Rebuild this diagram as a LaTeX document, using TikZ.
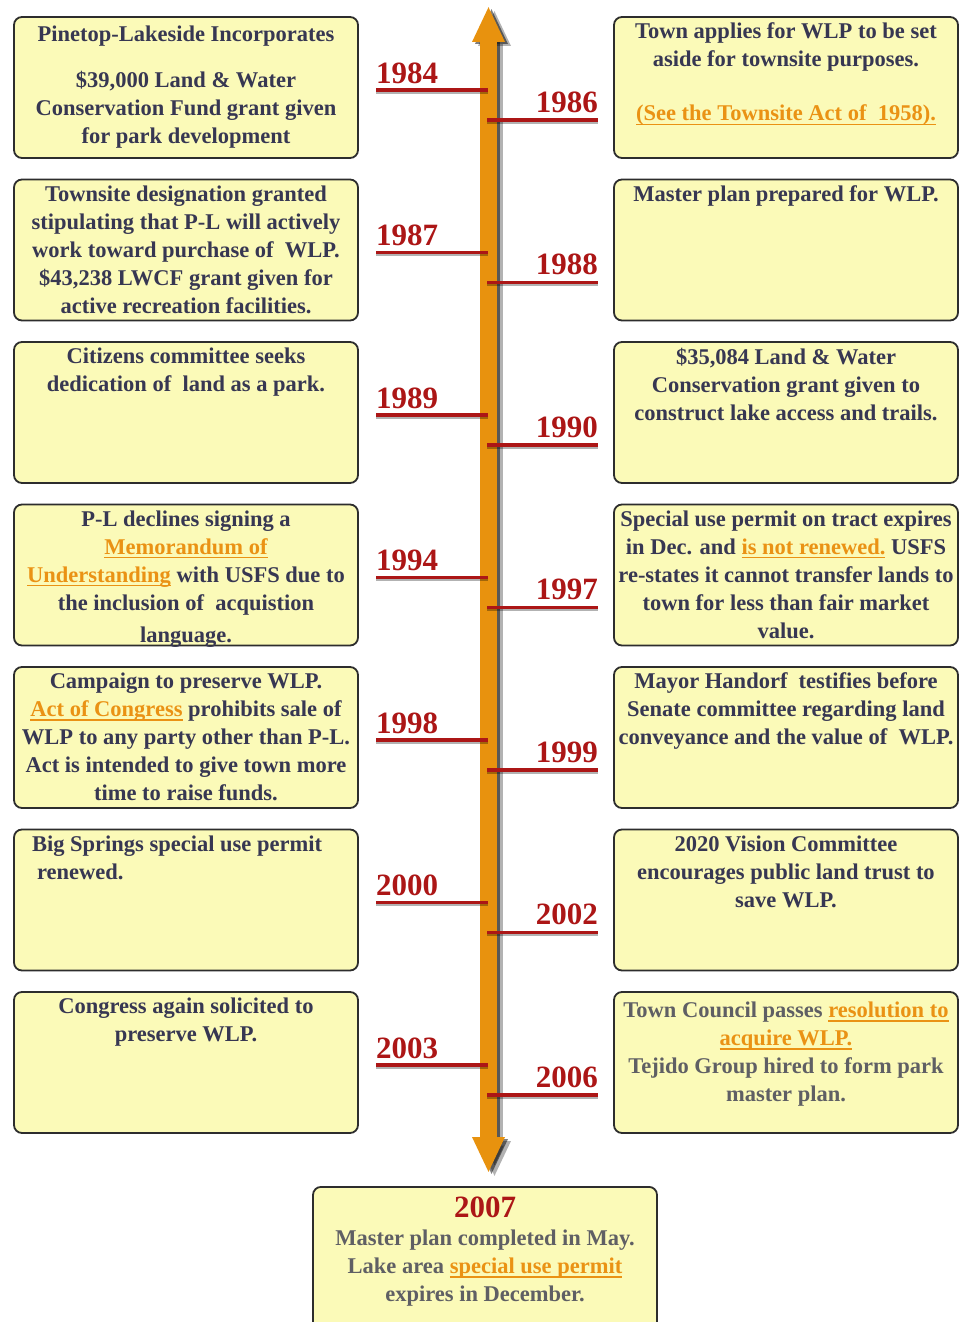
\documentclass[tikz,border=0pt]{standalone}
\usepackage{fontspec}
\setmainfont{Liberation Serif}
\usepackage{tikz}
\usetikzlibrary{arrows.meta, positioning}

\definecolor{boxfill}{RGB}{251,250,184}
\definecolor{boxline}{RGB}{45,45,45}
\definecolor{evtext}{RGB}{55,55,82}
\definecolor{evgray}{RGB}{95,95,100}
\definecolor{yearred}{RGB}{172,22,22}
\definecolor{linkc}{RGB}{234,146,20}
\definecolor{axisc}{RGB}{232,146,14}

\tikzstyle{event} = [draw=boxline, line width=1.8pt, fill=boxfill, rounded corners=8pt, minimum width=344pt, minimum height=141pt, inner sep=0pt, text=evtext, font=\bfseries\fontsize{22.5}{28}\selectfont]
\tikzstyle{yearL} = [inner sep=0pt, text=yearred, font=\bfseries\fontsize{31}{31}\selectfont, anchor=base west]
\tikzstyle{yearR} = [inner sep=0pt, text=yearred, font=\bfseries\fontsize{31}{31}\selectfont, anchor=base east]
\tikzstyle{yearline} = [line width=3.2pt, draw=yearred]
\tikzstyle{yearshadow} = [line width=3pt, draw=black, opacity=.3]
\tikzstyle{axis} = [line width=17pt, draw=axisc, >={Triangle[width=30pt,length=36pt]}, <->]

\newcommand{\evtxt}[1]{\parbox[c][129pt][t]{344pt}{\centering #1}}
\newcommand{\lnk}[1]{\textcolor{linkc}{\setbox0\hbox{#1}\rlap{\rule[-4pt]{\wd0}{1.3pt}}\box0}}

\begin{document}
\begin{tikzpicture}[x=1pt, y=-1pt]
        \useasboundingbox[fill=white] (0,0) rectangle (959,1322);
        \clip (0,0) rectangle (959,1322);

        % Timeline axis
        \coordinate (top) at (488.5,6);
        \coordinate (bot) at (488.5,1173);
        \draw[axis, draw=black, opacity=.3] ([xshift=6pt,yshift=-4pt]bot) -- ([xshift=6pt,yshift=-4pt]top);
        \draw[axis, draw=black, opacity=.5] ([xshift=3pt,yshift=-2pt]bot) -- ([xshift=3pt,yshift=-2pt]top);
        \draw[axis] (bot) -- (top);

        % Year marks
        \foreach \yr [count=\i from 0] in {1984,1987,1989,1994,1998,2000,2003} {
            \node[yearL] (yl\i) at (376,{83+162.5*\i}) {\yr};
            \coordinate (al\i) at (488,{90+162.5*\i});
            \draw[yearshadow] ([yshift=-2pt]al\i) -- ([yshift=-2pt]al\i -| yl\i.west);
            \draw[yearline] (al\i) -- (al\i -| yl\i.west);
        }
        \foreach \yr [count=\i from 0] in {1986,1988,1990,1997,1999,2002,2006} {
            \node[yearR] (yr\i) at (598,{112+162.5*\i}) {\yr};
            \coordinate (ar\i) at (487,{120+162.5*\i});
            \draw[yearshadow] ([yshift=-2pt]ar\i) -- ([yshift=-2pt]ar\i -| yr\i.east);
            \draw[yearline] (ar\i) -- (ar\i -| yr\i.east);
        }

        % Left events
        \node[event] (e84) at (186,87.5) {\evtxt{\vspace*{3pt}Pinetop-Lakeside Incorporates\\[18pt]
            \$39,000 Land \& Water\\ Conservation Fund grant given\\ for park development}};
        \node[event] (e87) at (186,250) {\evtxt{Townsite designation granted\\ stipulating that P-L will actively\\
            work toward purchase of~ WLP.\\ \$43,238 LWCF grant given for\\ active recreation facilities.}};
        \node[event] (e89) at (186,412.5) {\evtxt{Citizens committee seeks\\ dedication of~ land as a park.}};
        \node[event] (e94) at (186,575) {\evtxt{P-L declines signing a\\ \lnk{Memorandum of}\\
            \lnk{Understanding} with USFS due to\\ the inclusion of~ acquistion\\[4pt] language.}};
        \node[event] (e98) at (186,737.5) {\evtxt{Campaign to preserve WLP.\\ \lnk{Act of Congress} prohibits sale of\\
            WLP to any party other than P-L.\\ Act is intended to give town more\\ time to raise funds.}};
        \node[event] (e00) at (186,900) {\parbox[c][129pt][t]{344pt}{\raggedright
            \hspace*{18pt}Big Springs special use permit\\ \hspace*{23pt}renewed.}};
        \node[event] (e03) at (186,1062.5) {\evtxt{Congress again solicited to\\ preserve WLP.}};

        % Right events
        \node[event] (e86) at (786,87.5) {\evtxt{Town applies for WLP to be set\\ aside for townsite purposes.\\[26pt]
            \lnk{(See the Townsite Act of~ 1958).}}};
        \node[event] (e88) at (786,250) {\evtxt{Master plan prepared for WLP.}};
        \node[event] (e90) at (786,412.5) {\evtxt{\$35,084 Land \& Water\\ Conservation grant given to\\
            construct lake access and trails.}};
        \node[event] (e97) at (786,575) {\evtxt{Special use permit on tract expires\\ in Dec. and \lnk{is not renewed.} USFS\\
            re-states it cannot transfer lands to\\ town for less than fair market\\ value.}};
        \node[event] (e99) at (786,737.5) {\evtxt{Mayor Handorf~ testifies before\\ Senate committee regarding land\\
            conveyance and the value of~ WLP.}};
        \node[event] (e02) at (786,900) {\evtxt{2020 Vision Committee\\ encourages public land trust to\\ save WLP.}};
        \node[event, text=evgray] (e06) at (786,1062.5) {\evtxt{\vspace*{4pt}Town Council passes \lnk{resolution to}\\
            \lnk{acquire WLP.}\\ Tejido Group hired to form park\\ master plan.}};

        % Final event
        \node[event, text=evgray, minimum height=160pt, anchor=north] (e07) at (485,1186) {\parbox[c][148pt][t]{344pt}{\centering
            \vspace*{4pt}{\fontsize{31}{31}\selectfont\textcolor{yearred}{2007}}\\
            Master plan completed in May.\\ Lake area \lnk{special use permit}\\ expires in December.}};
\end{tikzpicture}
\end{document}
